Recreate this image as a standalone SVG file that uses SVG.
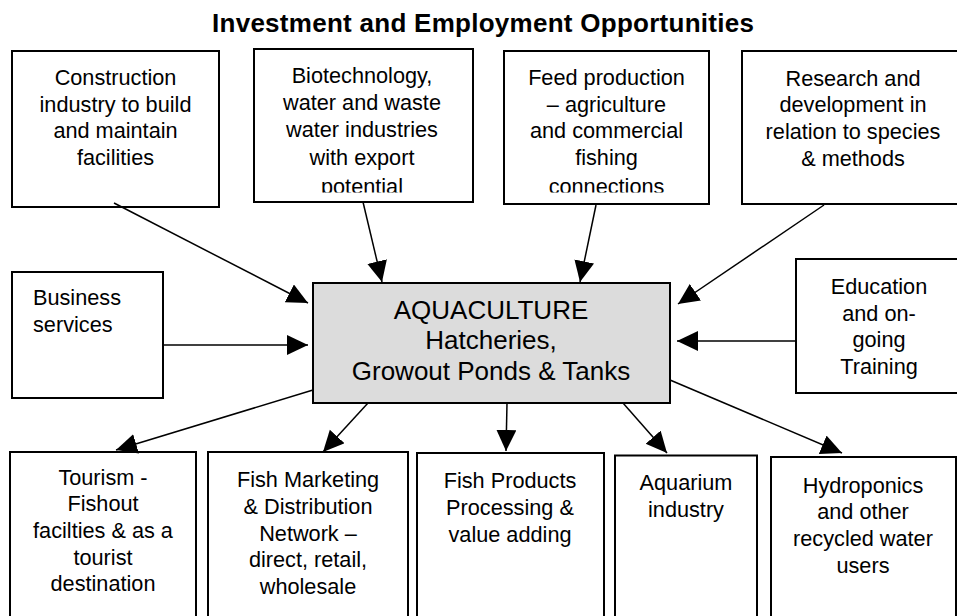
<svg xmlns="http://www.w3.org/2000/svg" width="957" height="616" viewBox="0 0 957 616">
<style>
  .box { fill: #ffffff; stroke: #000000; stroke-width: 2; }
  .hub { fill: #dcdcdc; stroke: #000000; stroke-width: 2; }
  .t { font-family: "Liberation Sans", Arial, Helvetica, sans-serif; font-size: 21.7px; fill: #000000; text-anchor: middle; }
  .tl { text-anchor: start; }
  .hubt { font-size: 26px; }
  .title { font-family: "Liberation Sans", Arial, Helvetica, sans-serif; font-size: 26px; font-weight: bold; fill: #000000; text-anchor: middle; }
  .conn line { stroke: #000000; stroke-width: 1.5; marker-end: url(#arrow); }
</style>
<defs>
  <marker id="arrow" markerUnits="userSpaceOnUse" markerWidth="22" markerHeight="21" refX="21" refY="10" orient="auto">
    <path d="M0,0 L21,10 L0,20 z" fill="#000000"/>
  </marker>
  <clipPath id="clipTop"><rect x="0" y="40" width="957" height="152.5"/></clipPath>
</defs>
<rect x="0" y="0" width="957" height="616" fill="#ffffff"/>

<text class="title" x="483" y="32" textLength="542" lengthAdjust="spacing">Investment and Employment Opportunities</text>

<g id="construction">
  <rect class="box" x="12" y="51" width="207" height="156"/>
  <text class="t" x="115.5" y="85">Construction</text>
  <text class="t" x="115.5" y="111.7">industry to build</text>
  <text class="t" x="115.5" y="138.4">and maintain</text>
  <text class="t" x="115.5" y="165.1">facilities</text>
</g>

<g id="biotech">
  <rect class="box" x="254" y="49" width="219" height="153"/>
  <g clip-path="url(#clipTop)">
    <text class="t" x="362" y="83.3">Biotechnology,</text>
    <text class="t" x="362" y="110.3">water and waste</text>
    <text class="t" x="362" y="137.3">water industries</text>
    <text class="t" x="362" y="164.8">with export</text>
    <text class="t" x="362" y="194">potential</text>
  </g>
</g>

<g id="feed">
  <rect class="box" x="504" y="51" width="205" height="153"/>
  <g clip-path="url(#clipTop)">
    <text class="t" x="606.5" y="85">Feed production</text>
    <text class="t" x="606.5" y="111.7">– agriculture</text>
    <text class="t" x="606.5" y="138.4">and commercial</text>
    <text class="t" x="606.5" y="165.1">fishing</text>
    <text class="t" x="606.5" y="194">connections</text>
  </g>
</g>

<g id="research">
  <rect class="box" x="742" y="51" width="222" height="153"/>
  <text class="t" x="853" y="85.7">Research and</text>
  <text class="t" x="853" y="112.4">development in</text>
  <text class="t" x="853" y="139.1">relation to species</text>
  <text class="t" x="853" y="165.8">&amp; methods</text>
</g>

<g id="business">
  <rect class="box" x="12" y="272" width="151" height="126"/>
  <text class="t tl" x="33" y="305">Business</text>
  <text class="t tl" x="33" y="331.7">services</text>
</g>

<g id="aquaculture">
  <rect class="hub" x="313" y="283" width="357" height="120"/>
  <text class="t hubt" x="491" y="318.5">AQUACULTURE</text>
  <text class="t hubt" x="491" y="349">Hatcheries,</text>
  <text class="t hubt" x="491" y="379.5">Growout Ponds &amp; Tanks</text>
</g>

<g id="education">
  <rect class="box" x="796" y="259" width="166" height="134"/>
  <text class="t" x="879" y="294">Education</text>
  <text class="t" x="879" y="320.5">and on-</text>
  <text class="t" x="879" y="347">going</text>
  <text class="t" x="879" y="373.5">Training</text>
</g>

<g id="tourism">
  <rect class="box" x="10" y="452" width="186" height="170"/>
  <text class="t" x="103" y="484.5">Tourism -</text>
  <text class="t" x="103" y="511.2">Fishout</text>
  <text class="t" x="103" y="537.9">facilties &amp; as a</text>
  <text class="t" x="103" y="564.6">tourist</text>
  <text class="t" x="103" y="591.3">destination</text>
</g>

<g id="marketing">
  <rect class="box" x="208" y="452" width="200" height="170"/>
  <text class="t" x="308" y="487.3">Fish Marketing</text>
  <text class="t" x="308" y="514">&amp; Distribution</text>
  <text class="t" x="308" y="540.7">Network –</text>
  <text class="t" x="308" y="567.4">direct, retail,</text>
  <text class="t" x="308" y="594.1">wholesale</text>
</g>

<g id="products">
  <rect class="box" x="417" y="453" width="187" height="169"/>
  <text class="t" x="510" y="488.3">Fish Products</text>
  <text class="t" x="510" y="515">Processing &amp;</text>
  <text class="t" x="510" y="541.7">value adding</text>
</g>

<g id="aquarium">
  <rect class="box" x="615" y="455.5" width="142" height="166"/>
  <text class="t" x="686" y="490">Aquarium</text>
  <text class="t" x="686" y="516.7">industry</text>
</g>

<g id="hydroponics">
  <rect class="box" x="771" y="457" width="185" height="165"/>
  <text class="t" x="863" y="492.7">Hydroponics</text>
  <text class="t" x="863" y="519.4">and other</text>
  <text class="t" x="863" y="546.1">recycled water</text>
  <text class="t" x="863" y="572.8">users</text>
</g>

<g id="connectors" class="conn">
  <line x1="114" y1="203" x2="308" y2="303"/>
  <line x1="363" y1="202" x2="382" y2="282"/>
  <line x1="596" y1="205" x2="580" y2="282"/>
  <line x1="824" y1="205" x2="678" y2="304"/>
  <line x1="163" y1="345" x2="308" y2="345"/>
  <line x1="796" y1="341" x2="677" y2="341"/>
  <line x1="313" y1="390" x2="116" y2="450"/>
  <line x1="368" y1="403" x2="323" y2="452"/>
  <line x1="507" y1="403" x2="506" y2="451"/>
  <line x1="623" y1="403" x2="667" y2="453"/>
  <line x1="670" y1="380" x2="842" y2="453"/>
</g>
</svg>
